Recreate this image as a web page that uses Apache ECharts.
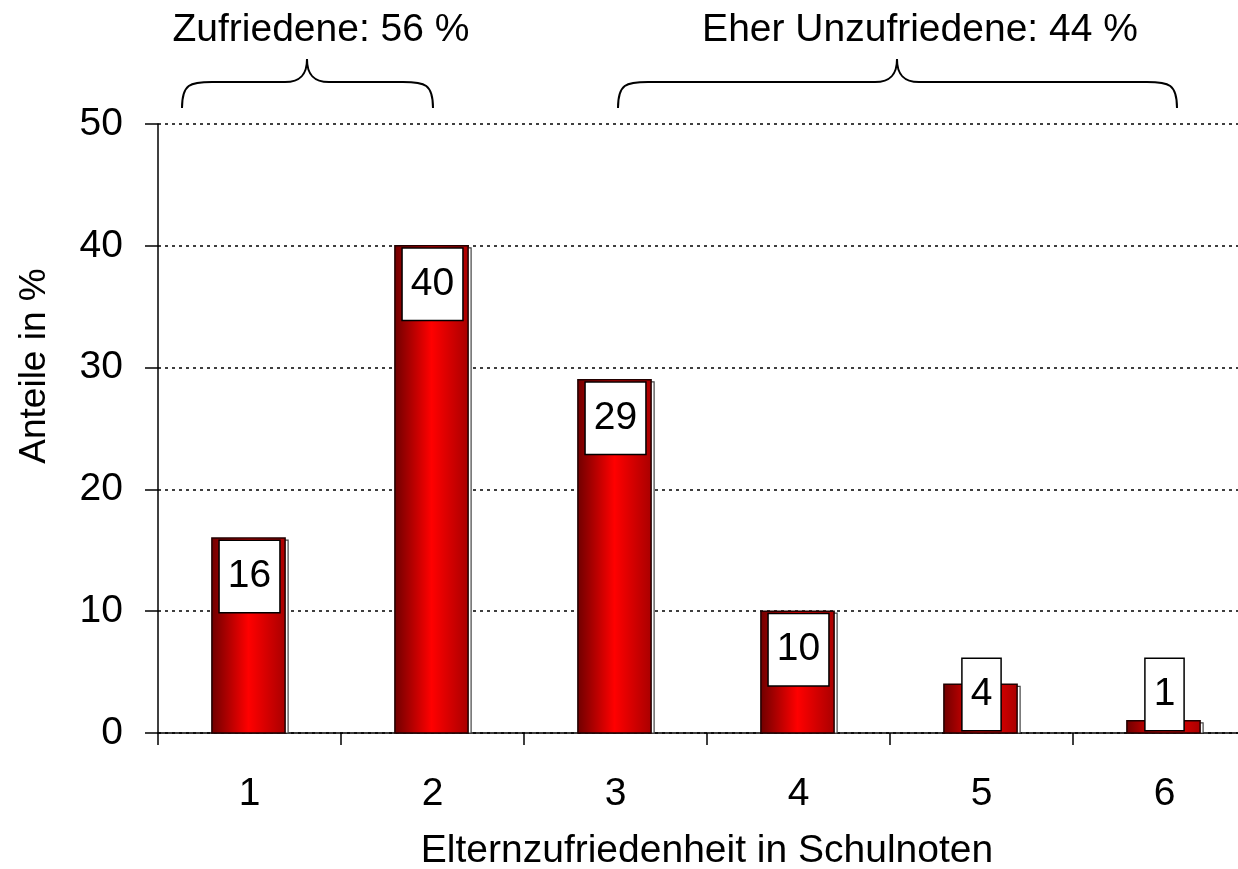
<!DOCTYPE html>
<html>
<head>
<meta charset="utf-8">
<script src="https://cdn.jsdelivr.net/npm/echarts@6/dist/echarts.min.js"></script>
<style>
  html, body { margin: 0; padding: 0; background: #fff; }
  #chart { width: 1238px; height: 869px; }
</style>
</head>
<body>
<div id="chart"></div>
<script>
var noten = ['1', '2', '3', '4', '5', '6'];
var anteile = [16, 40, 29, 10, 4, 1];
var yTicks = [0, 10, 20, 30, 40, 50];
var gruppen = ['Zufriedene: 56 %', 'Eher Unzufriedene: 44 %'];

var FONT = 'Liberation Sans, Arial, sans-serif';
var myChart = echarts.init(document.getElementById('chart'));

// geschweifte Klammer ueber einer Gruppe
function klammer (x1, x2, xs) {
    var yEnd = 108, yMid = 82, yTip = 59, r = 30, t = 22;
    var st = { stroke: '#000', lineWidth: 2, fill: null };
    return [
        { type: 'bezierCurve', shape: { x1: x1, y1: yEnd, cpx1: x1, cpy1: yMid + 2, cpx2: x1 + 8, cpy2: yMid, x2: x1 + r, y2: yMid }, style: st },
        { type: 'line', shape: { x1: x1 + r, y1: yMid, x2: xs - t, y2: yMid }, style: st },
        { type: 'bezierCurve', shape: { x1: xs - t, y1: yMid, cpx1: xs - 6, cpy1: yMid, cpx2: xs, cpy2: yMid - 8, x2: xs, y2: yTip }, style: st },
        { type: 'bezierCurve', shape: { x1: xs, y1: yTip, cpx1: xs, cpy1: yMid - 8, cpx2: xs + 6, cpy2: yMid, x2: xs + t, y2: yMid }, style: st },
        { type: 'line', shape: { x1: xs + t, y1: yMid, x2: x2 - r, y2: yMid }, style: st },
        { type: 'bezierCurve', shape: { x1: x2 - r, y1: yMid, cpx1: x2 - 8, cpy1: yMid, cpx2: x2, cpy2: yMid + 2, x2: x2, y2: yEnd }, style: st }
    ];
}

var option = {
    animation: false,
    backgroundColor: '#fff',
    textStyle: { fontFamily: FONT },
    grid: {
        left: 158,
        right: -18,
        top: 124,
        bottom: 136,
        containLabel: false,
        outerBoundsMode: 'none'
    },
    xAxis: {
        type: 'category',
        data: noten,
        name: 'Elternzufriedenheit in Schulnoten',
        nameLocation: 'middle',
        nameGap: 99,
        nameTextStyle: { fontSize: 39, color: '#000', fontFamily: FONT },
        axisLine: { lineStyle: { color: '#000', width: 1.5 } },
        axisTick: { show: true, length: 12, lineStyle: { color: '#000', width: 1.5 } },
        axisLabel: { fontSize: 39, color: '#000', margin: 42, fontFamily: FONT },
        splitLine: { show: false }
    },
    yAxis: {
        type: 'value',
        min: yTicks[0],
        max: yTicks[yTicks.length - 1],
        interval: 10,
        axisLine: { show: true, lineStyle: { color: '#000', width: 1.5 } },
        axisTick: { show: true, length: 13, lineStyle: { color: '#000', width: 1.5 } },
        axisLabel: { fontSize: 39, color: '#000', margin: 35, fontFamily: FONT },
        splitLine: { show: true, lineStyle: { color: '#000', width: 1.5, type: [3, 4] } }
    },
    graphic: [
        {
            type: 'text', x: 35, y: 366, rotation: Math.PI / 2,
            style: { text: 'Anteile in %', fill: '#000', font: '37px ' + FONT, align: 'center', verticalAlign: 'middle' }
        },
        {
            type: 'text', x: 321, y: 30,
            style: { text: gruppen[0], font: '39px ' + FONT, fill: '#000', align: 'center', verticalAlign: 'middle' }
        },
        {
            type: 'text', x: 920, y: 30,
            style: { text: gruppen[1], font: '39px ' + FONT, fill: '#000', align: 'center', verticalAlign: 'middle' }
        }
    ].concat(klammer(182, 433, 307)).concat(klammer(618, 1177, 897)),
    series: [
        {
            type: 'custom',
            data: anteile.map(function (v, i) { return [i, v]; }),
            encode: { x: 0, y: 1 },
            renderItem: function (params, api) {
                var idx = api.value(0);
                var val = api.value(1);
                var top = api.coord([idx, val]);
                var base = api.coord([idx, 0]);
                var band = api.size([1, 0])[0];
                var w = band * 0.4;
                var left = top[0] - w / 2 - 1;
                var h = base[1] - top[1];
                var boxH = 71;
                var boxTop = Math.min(top[1] + 3, base[1] - 3 - boxH);
                return {
                    type: 'group',
                    children: [
                        {
                            type: 'rect',
                            shape: { x: left + 3, y: top[1] + 2, width: w, height: h - 2 },
                            style: { fill: '#fff', stroke: '#444', lineWidth: 1.2 }
                        },
                        {
                            type: 'rect',
                            shape: { x: left, y: top[1], width: w, height: h },
                            style: {
                                fill: new echarts.graphic.LinearGradient(0, 0, 1, 0, [
                                    { offset: 0, color: '#6e0000' },
                                    { offset: 0.5, color: '#ff0000' },
                                    { offset: 1, color: '#a80000' }
                                ]),
                                stroke: '#200000',
                                lineWidth: 1.5
                            }
                        },
                        {
                            type: 'text',
                            x: top[0],
                            y: boxTop,
                            style: {
                                text: String(val),
                                font: '39px ' + FONT,
                                fill: '#000',
                                align: 'center',
                                verticalAlign: 'top',
                                lineHeight: 39,
                                backgroundColor: '#fff',
                                borderColor: '#000',
                                borderWidth: 1.5,
                                padding: [16, 8]
                            }
                        }
                    ]
                };
            }
        }
    ]
};

myChart.setOption(option);
</script>
</body>
</html>
